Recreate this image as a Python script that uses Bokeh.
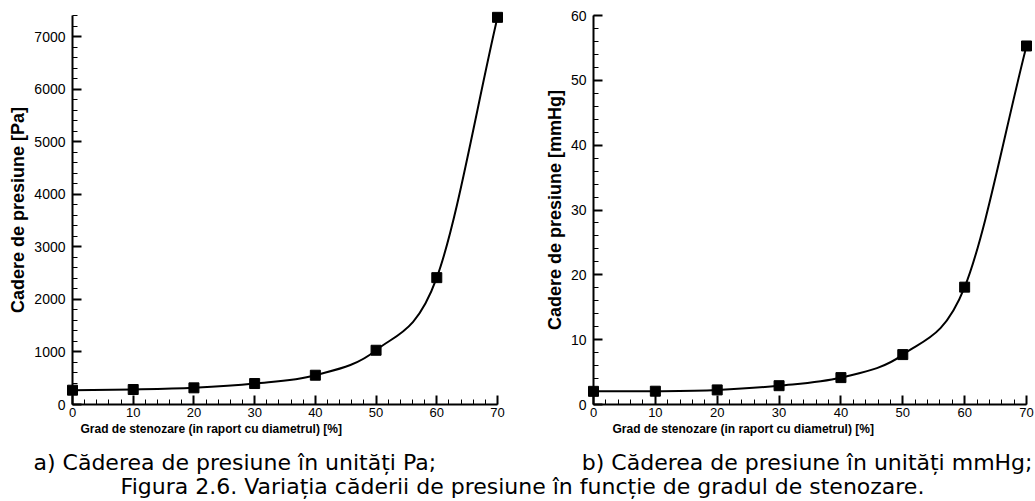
import numpy as np
from bokeh.plotting import figure
from bokeh.models import Range1d, FixedTicker, Title
from bokeh.layouts import column, row
from bokeh.embed import file_html
from bokeh.resources import INLINE
from bokeh.core.properties import value

# ---------------- data ----------------
stenosis = [0, 10, 20, 30, 40, 50, 60, 70]
drop_pa = [272, 285, 317, 399, 557, 1032, 2413, 7365]
drop_mmhg = [2.03, 2.05, 2.25, 2.9, 4.15, 7.7, 18.1, 55.3]

x_major = [0, 10, 20, 30, 40, 50, 60, 70]
x_minor = list(range(0, 71, 2))
pa_major = [0, 1000, 2000, 3000, 4000, 5000, 6000, 7000]
pa_minor = list(range(0, 7401, 200))
mmhg_major = [0, 10, 20, 30, 40, 50, 60]
mmhg_minor = list(range(0, 61, 2))

x_title = "Grad de stenozare (in raport cu diametrul) [%]"
y_title_pa = "Cadere de presiune [Pa]"
y_title_mmhg = "Cadere de presiune [mmHg]"
caption_a = "a) Căderea de presiune în unități Pa;"
caption_b = "b) Căderea de presiune în unități mmHg;"
caption_fig = "Figura 2.6. Variația căderii de presiune în funcție de gradul de stenozare."

TICK_FONT = "Liberation Sans"


def bezier_parts(xs, ys):
    """Catmull-Rom style smooth curve through the data points, as cubic Bezier segments."""
    xs = np.asarray(xs, float)
    ys = np.asarray(ys, float)
    mx = np.empty_like(xs)
    my = np.empty_like(ys)
    mx[1:-1] = (xs[2:] - xs[:-2]) / 2
    my[1:-1] = (ys[2:] - ys[:-2]) / 2
    mx[0], my[0] = xs[1] - xs[0], ys[1] - ys[0]
    mx[-1], my[-1] = xs[-1] - xs[-2], ys[-1] - ys[-2]
    return dict(
        x0=xs[:-1], y0=ys[:-1], x1=xs[1:], y1=ys[1:],
        cx0=xs[:-1] + mx[:-1] / 3, cy0=ys[:-1] + my[:-1] / 3,
        cx1=xs[1:] - mx[1:] / 3, cy1=ys[1:] - my[1:] / 3,
    )


def make_panel(width, ys, ymax, ymajor, yminor, ytitle, bl, br, bt, bb, title_offset):
    p = figure(width=width, height=440, x_range=Range1d(0, 70), y_range=Range1d(0, ymax),
               output_backend="svg", toolbar_location=None,
               min_border_left=bl, min_border_right=br, min_border_top=bt, min_border_bottom=bb)
    p.outline_line_color = None
    p.grid.visible = False
    p.background_fill_color = "white"
    p.border_fill_color = "white"

    p.xaxis.ticker = FixedTicker(ticks=x_major, minor_ticks=x_minor)
    p.yaxis.ticker = FixedTicker(ticks=ymajor, minor_ticks=yminor)
    for ax in (p.xaxis, p.yaxis):
        ax.axis_line_width = 2
        ax.axis_line_color = "black"
        ax.major_tick_line_width = 2
        ax.major_tick_line_color = "black"
        ax.minor_tick_line_width = 1
        ax.minor_tick_line_color = "black"
        ax.major_tick_in = 9
        ax.major_tick_out = 0
        ax.minor_tick_in = 5
        ax.minor_tick_out = 0
        ax.major_label_text_font = TICK_FONT
        ax.major_label_text_color = "black"
    p.xaxis.major_label_text_font_size = "13px"
    p.xaxis.major_label_standoff = 3
    p.yaxis.major_label_text_font_size = "14px"
    p.yaxis.major_label_standoff = 7
    p.yaxis.axis_label = ytitle
    p.yaxis.axis_label_text_font = TICK_FONT
    p.yaxis.axis_label_text_font_style = "bold"
    p.yaxis.axis_label_text_font_size = "18px"
    p.yaxis.axis_label_text_color = "black"
    p.yaxis.axis_label_standoff = 3

    t = Title(text=x_title, align="left", offset=title_offset, standoff=0,
              text_font=TICK_FONT, text_font_style="bold", text_font_size="12px",
              text_color="black")
    p.add_layout(t, "below")

    p.bezier(source=bezier_parts(stenosis, ys), x0="x0", y0="y0", x1="x1", y1="y1",
             cx0="cx0", cy0="cy0", cx1="cx1", cy1="cy1", line_color="black", line_width=2)
    r = p.scatter(stenosis, ys, marker="square", size=10, color="black")
    r.level = "overlay"
    return p


p1 = make_panel(520, drop_pa, 7400, pa_major, pa_minor, y_title_pa, 72, 23, 15, 36, 8)
p2 = make_panel(515, drop_mmhg, 60, mmhg_major, mmhg_minor, y_title_mmhg, 73, 9, 12, 33, 19)

cap = figure(width=1035, height=61, x_range=Range1d(0, 1035), y_range=Range1d(0, 61),
             output_backend="svg", toolbar_location=None, x_axis_type=None, y_axis_type=None,
             min_border=0)
cap.outline_line_color = None
cap.grid.visible = False
cap_style = dict(text_baseline="alphabetic", text_font=value("DejaVu Sans"),
                 text_font_size="22px", text_color="black")
cap.text(x=[33], y=[39], text=[caption_a], text_align="left", **cap_style)
cap.text(x=[1032], y=[39], text=[caption_b], text_align="right", **cap_style)
cap.text(x=[522], y=[15], text=[caption_fig], text_align="center", **cap_style)

layout = column(row(p1, p2), cap)
open("out.html", "w").write(file_html(layout, INLINE))
